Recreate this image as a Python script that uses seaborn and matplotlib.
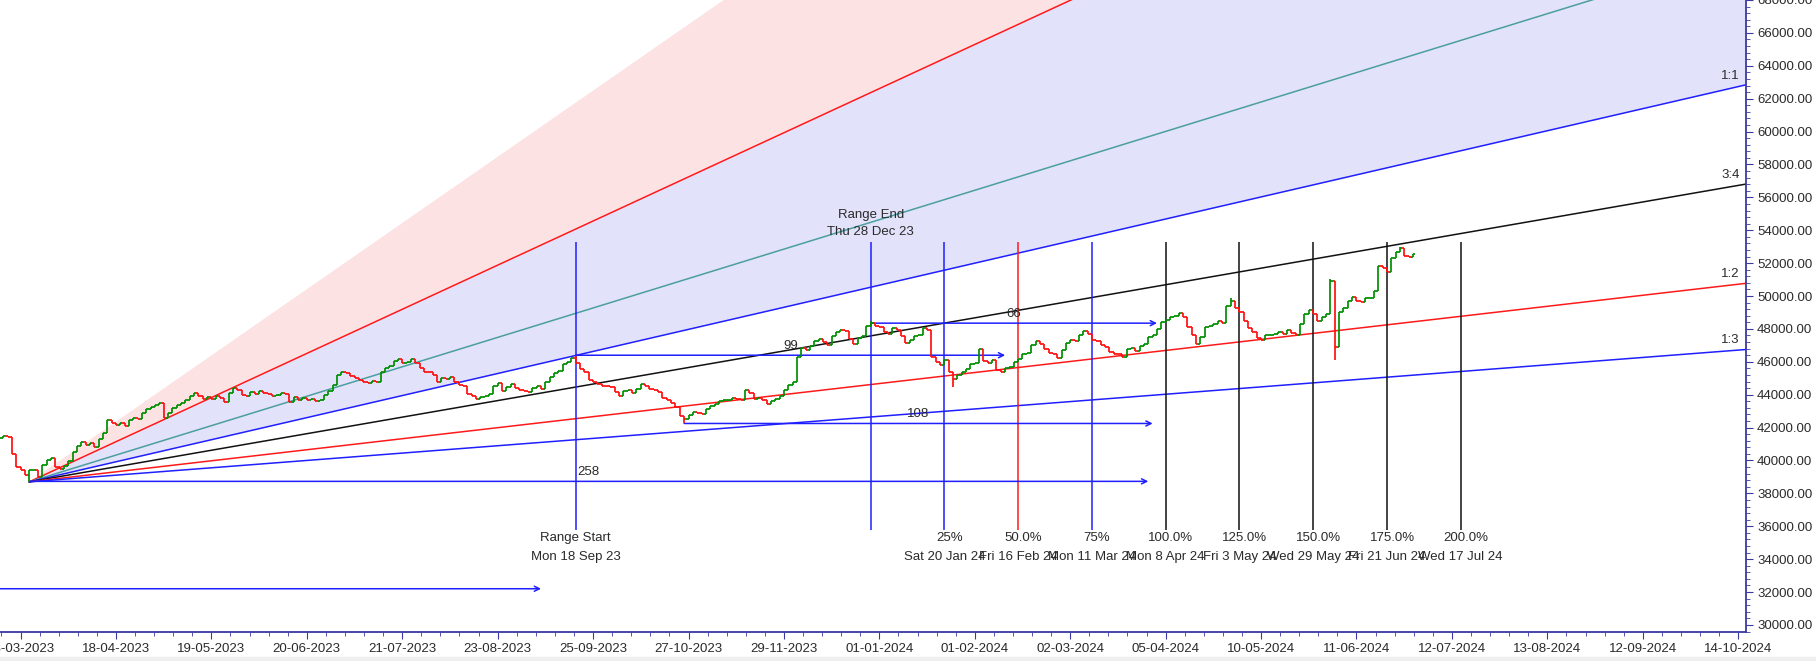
import numpy as np
import pandas as pd
import matplotlib
matplotlib.use("Agg")
import matplotlib.pyplot as plt
from matplotlib.patches import Rectangle
from matplotlib.ticker import MultipleLocator, FuncFormatter
import seaborn as sns

# Daily closes, one per trading bar. Bar index 0 sits on the first date label.
first_bar = -5
closes = [
    41350, 41500, 41450, 40400, 39600, 39450, 39100, 39400, 39450, 39000,
    39700, 40000, 40150, 39600, 39500, 39650, 39950, 40500, 40850, 41100,
    40950, 41050, 40800, 41300, 41650, 42450, 42300, 42150, 42250, 42100,
    42450, 42600, 42550, 42900, 43100, 43250, 43350, 43500, 42600, 42900,
    43200, 43350, 43500, 43650, 43900, 44100, 43950, 43750, 43850, 43750,
    43900, 43800, 43550, 44100, 44400, 44300, 44000, 43900, 44150, 44050,
    44200, 44100, 44050, 43950, 44000, 44100, 44050, 43550, 43850, 43650,
    43800, 43700, 43750, 43600, 43650, 44000, 44250, 44600, 45200, 45400,
    45300, 45150, 45000, 44900, 44750, 44700, 44850, 44800, 45400, 45650,
    45750, 46050, 46150, 45950, 46000, 46150, 45950, 45600, 45400, 45350,
    45200, 44750, 45000, 44950, 45050, 44750, 44600, 44500, 44050, 43900,
    43750, 43850, 43950, 44050, 44500, 44700, 44250, 44450, 44650, 44400,
    44300, 44200, 44150, 44400, 44500, 44350, 44800, 45050, 45300, 45450,
    45850, 46000, 46250, 45950, 45550, 45400, 44900, 44750, 44650, 44550,
    44500, 44450, 44150, 43950, 44250, 44300, 44100, 44350, 44650, 44550,
    44350, 44300, 44150, 43800, 43650, 43500, 43250, 42700, 42500, 42750,
    42950, 42900, 42800, 43150, 43300, 43450, 43600, 43650, 43700, 43800,
    43750, 43700, 44300, 44100, 43750, 43800, 43650, 43450, 43600, 43750,
    43900, 44300, 44600, 44800, 46300, 46850, 46700, 46950, 47250, 47400,
    47200, 47000, 47550, 47800, 47950, 47850, 47400, 47100, 47450, 47550,
    48200, 48350, 48200, 48100, 47800, 47700, 48050, 47950, 47550, 47150,
    47350, 47550, 47650, 48050, 47950, 46300, 46000, 45800, 46100, 45350,
    44950, 45200, 45350, 45550, 45850, 45950, 46750, 46050, 45950, 46100,
    45500, 45350, 45600, 45700, 46000, 46150, 46450, 46550, 47000, 47250,
    47100, 46800, 46550, 46450, 46250, 46700, 47150, 47300, 47250, 47600,
    47850, 47700, 47350, 47250, 47000, 46900, 46600, 46500, 46450, 46300,
    46750, 46850, 46650, 46950, 47100, 47500, 47600, 48000, 48400, 48550,
    48750, 48800, 48950, 48700, 48100, 47600, 47100, 47500, 48100, 48200,
    48300, 48500, 48350, 49400, 49700, 49300, 49000, 48500, 48050, 47800,
    47450, 47350, 47600, 47650, 47700, 47800, 47700, 47950, 47750, 47600,
    48300, 48900, 49150, 48900, 48500, 48700, 48900, 50900, 46900, 49000,
    49300, 49700, 49950, 49700, 49650, 49850, 49900, 50300, 51800, 51700,
    51450, 52300, 52700, 52900, 52450, 52350, 52550,
]
# wicks that reach past open/close
low_marks = {2: 38700, 153: 42250, 215: 44450, 303: 46100}
high_marks = {128: 46380, 196: 48470, 279: 49850, 302: 51050, 318: 53000}

# x axis date labels, every 22 bars
date_labels = ["13-03-2023", "18-04-2023", "19-05-2023", "20-06-2023", "21-07-2023",
               "23-08-2023", "25-09-2023", "27-10-2023", "29-11-2023", "01-01-2024",
               "01-02-2024", "02-03-2024", "05-04-2024", "10-05-2024", "11-06-2024",
               "12-07-2024", "13-08-2024", "12-09-2024", "14-10-2024"]
label_step = 22

# Gann fan
fan_origin = (2, 38700)
fan_unit = 61.0
fan_ratios = [3, 2, 4 / 3, 1, 3 / 4, 1 / 2, 1 / 3]
fan_names = ["3:1", "2:1", "4:3", "1:1", "3:4", "1:2", "1:3"]
fan_colors = {"2:1": "#ff1a1a", "4:3": "#4c9f9f", "1:1": "#1f1fff",
              "3:4": "#111111", "1:2": "#ff1a1a", "1:3": "#1f1fff"}
edge_names = ["1:1", "3:4", "1:2", "1:3"]

# time range and its extensions
range_start, range_end = 128, 196
start_text = ["Range Start", "Mon 18 Sep 23"]
end_text = ["Range End", "Thu 28 Dec 23"]
time_idx = [213, 230, 247, 264, 281, 298, 315, 332]
time_pct = ["25%", "50.0%", "75%", "100.0%", "125.0%", "150.0%", "175.0%", "200.0%"]
time_dates = ["Sat 20 Jan 24", "Fri 16 Feb 24", "Mon 11 Mar 24", "Mon 8 Apr 24",
              "Fri 3 May 24", "Wed 29 May 24", "Fri 21 Jun 24", "Wed 17 Jul 24"]
time_colors = ["#1f1fff", "#ff1a1a", "#1f1fff", "#111111", "#111111",
               "#111111", "#111111", "#111111"]
vline_span = (35800, 53300)

# bar-count arrows: start, end, price, label
arrow_start = [2, 153, 128, 196]
arrow_end = [260, 261, 227, 262]
arrow_price = [38730, 42250, 46400, 48350]
arrow_text = ["258", "108", "99", "66"]
long_arrow = (-12, 120, 32200)

# ---------------------------------------------------------------
sns.set_style("white")
plt.rcParams["font.family"] = ["Liberation Sans", "DejaVu Sans"]
txt_col = "#2a2a2a"
axis_col = "#3a3aa0"
fs = 9.5

fig = plt.figure(figsize=(18.16, 6.61), dpi=100)
ax = fig.add_axes([0, 1 - 632 / 661, 1746 / 1816, 632 / 661])
ax.set_xlim(-4.73, 397.8)
ax.set_ylim(29570, 67640)

# fan fills and lines
xs = np.array([fan_origin[0], 420])
fan_y = {n: fan_origin[1] + r * fan_unit * (xs - fan_origin[0]) for n, r in zip(fan_names, fan_ratios)}
ax.fill_between(xs, fan_y["2:1"], fan_y["3:1"], color="#fde2e4", lw=0, zorder=0)
ax.fill_between(xs, fan_y["1:1"], fan_y["2:1"], color="#e2e2fb", lw=0, zorder=0)

fan_df = pd.DataFrame([(x, y, n) for n in fan_colors for x, y in zip(xs, fan_y[n])],
                      columns=["bar", "price", "line"])
sns.lineplot(data=fan_df, x="bar", y="price", hue="line", palette=fan_colors,
             legend=False, ax=ax, linewidth=1.1, estimator=None, zorder=2)

for n in edge_names:
    yv = fan_origin[1] + fan_ratios[fan_names.index(n)] * fan_unit * (397.8 - fan_origin[0])
    ax.text(396.3, yv + 560, n, ha="right", va="center", fontsize=fs, color=txt_col)

# vertical range lines
vcols = ["#1f1fff", "#1f1fff"] + time_colors
ax.vlines([range_start, range_end] + time_idx, vline_span[0], vline_span[1],
          colors=vcols, lw=1.1, zorder=2)
ax.text(range_start, 35270, start_text[0], ha="center", va="center", fontsize=fs, color=txt_col)
ax.text(range_start, 34150, start_text[1], ha="center", va="center", fontsize=fs, color=txt_col)
ax.text(range_end, 54950, end_text[0], ha="center", va="center", fontsize=fs, color=txt_col)
ax.text(range_end, 53910, end_text[1], ha="center", va="center", fontsize=fs, color=txt_col)
for xi, p, d in zip(time_idx, time_pct, time_dates):
    ax.text(xi + 1.2, 35270, p, ha="center", va="center", fontsize=fs, color=txt_col)
    ax.text(xi, 34150, d, ha="center", va="center", fontsize=fs, color=txt_col)

# bar-count arrows
for x0, x1, yv, t in zip(arrow_start, arrow_end, arrow_price, arrow_text):
    ax.annotate("", xy=(x1, yv), xytext=(x0, yv),
                arrowprops=dict(arrowstyle="->", color="#1f1fff", lw=1.1,
                                shrinkA=0, shrinkB=0, mutation_scale=9), zorder=3)
    ax.text((x0 + x1) / 2, yv + 550, t, ha="center", va="center", fontsize=fs, color=txt_col)
ax.annotate("", xy=(long_arrow[1], long_arrow[2]), xytext=(long_arrow[0], long_arrow[2]),
            arrowprops=dict(arrowstyle="->", color="#1f1fff", lw=1.1,
                            shrinkA=0, shrinkB=0, mutation_scale=9), annotation_clip=False)

# OHLC bars
c = np.array(closes, dtype=float)
o = np.concatenate([[c[0]], c[:-1]])
idx = np.arange(first_bar, first_bar + len(c))
hi = np.maximum(o, c)
lo = np.minimum(o, c)
for k, v in high_marks.items():
    hi[k - first_bar] = max(hi[k - first_bar], v)
for k, v in low_marks.items():
    lo[k - first_bar] = min(lo[k - first_bar], v)
cols = np.where(c >= o, "#008f00", "#ff1010")
ax.vlines(idx, lo, hi, colors=cols, lw=1.25, zorder=4)
ax.hlines(o, idx - 0.5, idx, colors=cols, lw=1.25, zorder=4)
ax.hlines(c, idx, idx + 0.5, colors=cols, lw=1.25, zorder=4)

# axes styling
ax.yaxis.tick_right()
ax.set_yticks(np.arange(30000, 68001, 2000))
ax.yaxis.set_major_formatter(FuncFormatter(lambda v, p: f"{v:.2f}"))
ax.yaxis.set_minor_locator(MultipleLocator(400))
ax.set_xticks(np.arange(len(date_labels)) * label_step)
ax.set_xticklabels(date_labels)
ax.xaxis.set_minor_locator(MultipleLocator(label_step / 5))
ax.tick_params(which="both", direction="out", color=axis_col, labelsize=fs,
               labelcolor=txt_col, bottom=True, right=True, left=False)
ax.tick_params(which="major", length=5, pad=3)
ax.tick_params(which="minor", length=3)
for s in ["top", "left"]:
    ax.spines[s].set_visible(False)
for s in ["right", "bottom"]:
    ax.spines[s].set_color(axis_col)
    ax.spines[s].set_linewidth(1.3)
ax.set_xlabel("")
ax.set_ylabel("")

fig.patches.append(Rectangle((0, 0), 1, 4 / 661, transform=fig.transFigure,
                             color="#efefef", zorder=0))
fig.savefig("out.png", dpi=100)
